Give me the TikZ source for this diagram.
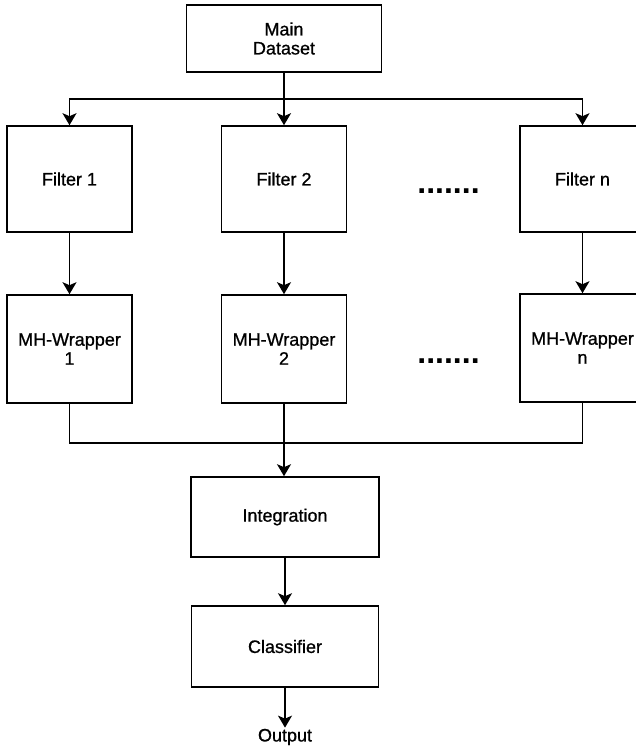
\documentclass[tikz,border=0pt]{standalone}
\usepackage{fontspec}
\setmainfont{Liberation Sans}
% a slightly heavier face for the labels
\newfontfamily\labelfont{Liberation Sans}[BoldFont={Liberation Sans}, BoldFeatures={FakeBold=0.9}]
\usetikzlibrary{arrows.meta}
\begin{document}
\begin{tikzpicture}[x=1bp,y=-1bp,
  every node/.style={font=\labelfont\bfseries\fontsize{18bp}{19bp}\selectfont},
  box/.style={draw, line width=1.6bp, align=center, inner sep=0pt},
  colbox/.style={box, minimum width=125bp},
  link/.style={line width=1.6bp},
  flow/.style={link, -{Stealth[length=12bp,width=14bp,inset=3bp]}},
  gap/.style={font=\fontsize{32bp}{32bp}\selectfont\bfseries, inner sep=0pt, anchor=base}
]
\useasboundingbox (0,0) rectangle (636,747);
\clip (0,0) rectangle (636,747);

% source
\node[box, minimum width=195bp, minimum height=67bp] (main) at (284,38.5) {Main\\Dataset};

% filter row
\node[colbox, minimum height=106bp] (f1) at (69.5,179) {Filter 1};
\node[colbox, minimum height=106bp] (f2) at (284,179) {Filter 2};
\node[colbox, minimum height=106bp] (fn) at (582.5,179) {Filter n};
\node[gap] (fdots) at (448.5,193) {.......};

% wrapper row
\node[colbox, minimum height=108bp] (m1) at (69.5,349) {MH-Wrapper\\1};
\node[colbox, minimum height=108bp] (m2) at (284,349) {MH-Wrapper\\2};
\node[colbox, minimum height=108bp] (mn) at (582.5,348) {MH-Wrapper\\n};
\node[gap] (mdots) at (448.5,363) {.......};

% merge and output stages
\node[box, minimum width=188bp, minimum height=80bp] (integ) at (285,517) {Integration};
\node[box, minimum width=187bp, minimum height=81bp] (cls) at (285,646.5) {Classifier};
\node[inner sep=1bp] (out) at (285,737) {Output};

% fan-out from the dataset
\coordinate (split) at (284,99);
\draw[link] (main) -- (split);
\draw[flow] (split) -| (f1);
\draw[flow] (split) -- (f2);
\draw[flow] (split) -| (fn);

% filter to wrapper
\draw[flow] (f1) -- (m1);
\draw[flow] (f2) -- (m2);
\draw[flow] (fn) -- (mn);

% fan-in to integration
\coordinate (merge) at (284,443);
\draw[link] (m1.south) |- (merge);
\draw[link] (mn.south) |- (merge);
\draw[flow] (m2) -- (integ.north -| m2);

\draw[flow] (integ) -- (cls);
\draw[flow] (cls) -- (out);
\end{tikzpicture}
\end{document}
